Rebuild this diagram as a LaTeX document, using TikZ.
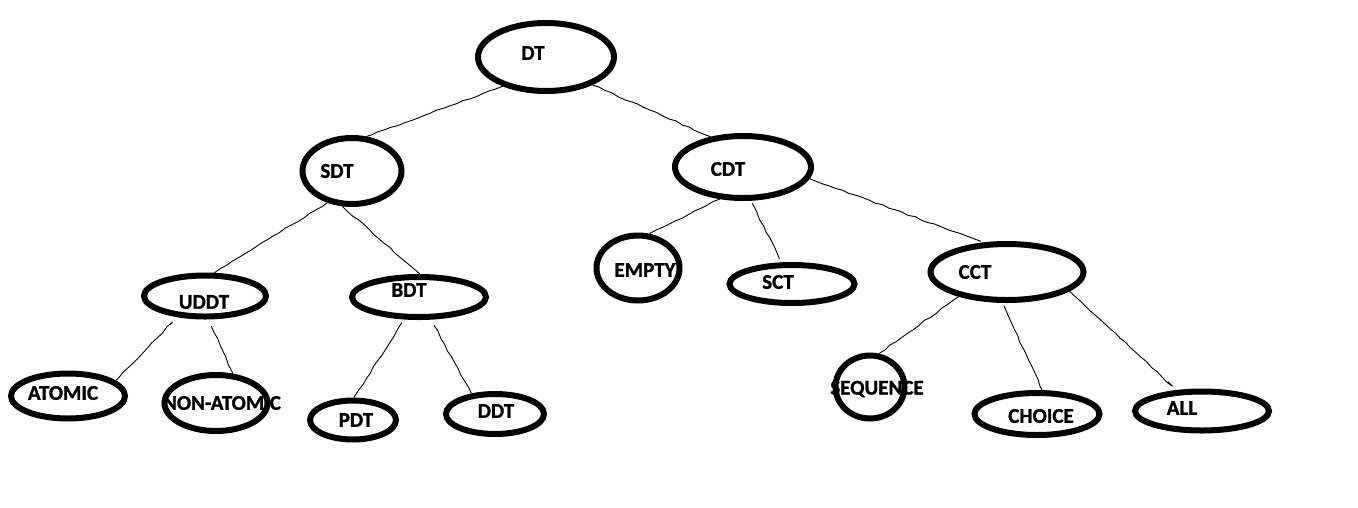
\documentclass[tikz,border=0pt]{standalone}
\usepackage{fontspec}
\setmainfont{Carlito}[BoldFeatures={FakeBold=1.2}]
\usetikzlibrary{shapes.geometric,decorations.pathmorphing}
\begin{document}
\begin{tikzpicture}[x=1pt,y=-1pt,
  ell/.style={draw=black,line width=6pt,ellipse,inner sep=0pt,fill=none},
  lbl/.style={inner sep=0pt,font=\bfseries\fontsize{21}{22}\selectfont},
  conn/.style={draw=black,line width=0.9pt,decorate,decoration={random steps,segment length=7pt,amplitude=0.7pt}}]
\pgfmathsetseed{7}
\useasboundingbox[fill=white] (0,0) rectangle (1358,507);
% ellipses
\node[ell,minimum width=136,minimum height=68] (dt) at (546,57) {};
\node[ell,minimum width=99,minimum height=66] (sdt) at (352,171) {};
\node[ell,minimum width=136,minimum height=62] (cdt) at (743,167) {};
\node[ell,minimum width=122,minimum height=41] (uddt) at (205,296) {};
\node[ell,minimum width=134,minimum height=40] (bdt) at (419,297) {};
\node[ell,minimum width=83,minimum height=65] (empty) at (638,268) {};
\node[ell,minimum width=125,minimum height=38] (sct) at (792,284) {};
\node[ell,minimum width=153,minimum height=56] (cct) at (1007,272) {};
\node[ell,minimum width=114,minimum height=45] (atomic) at (68,396) {};
\node[ell,minimum width=103,minimum height=56] (nonatomic) at (216,403) {};
\node[ell,minimum width=86,minimum height=39] (pdt) at (353,420) {};
\node[ell,minimum width=98,minimum height=40] (ddt) at (495,414) {};
\node[ell,minimum width=69,minimum height=63] (sequence) at (870,387) {};
\node[ell,minimum width=125,minimum height=42] (choice) at (1037,414) {};
\node[ell,minimum width=134,minimum height=39] (all) at (1202,411) {};
% labels
\node[lbl] (dtl) at (533,53) {DT};
\node[lbl] (sdtl) at (337,171) {SDT};
\node[lbl] (cdtl) at (728,169) {CDT};
\node[lbl] (uddtl) at (204,302) {UDDT};
\node[lbl] (bdtl) at (409,290) {BDT};
\node[lbl] (emptyl) at (645,270) {EMPTY};
\node[lbl] (sctl) at (778,282) {SCT};
\node[lbl] (cctl) at (975,272) {CCT};
\node[lbl] (atomicl) at (63,393) {ATOMIC};
\node[lbl] (nonatomicl) at (222,403) {NON-ATOMIC};
\node[lbl] (pdtl) at (356,420) {PDT};
\node[lbl] (ddtl) at (496,411) {DDT};
\node[lbl] (sequencel) at (877,389) {SEQUENCE};
\node[lbl] (choicel) at (1041,416) {CHOICE};
\node[lbl] (alll) at (1182,408) {ALL};
% connectors
\draw[conn] (dt.214) -- (sdt.67);
\draw[conn] (dt.329) -- (cdt.137);
\draw[conn] (sdt.232) -- (uddt.68);
\draw[conn] (sdt.255) -- (bdt.88);
\draw[conn,shorten <=10pt] (uddt.217) -- (atomic.18);
\draw[conn,shorten <=8pt] (uddt.278) -- (nonatomic.60);
\draw[conn,shorten <=4pt] (bdt.237) -- (pdt.88);
\draw[conn,shorten <=8pt] (bdt.298) -- (ddt.139);
\draw[conn] (cdt.234) -- (empty.72);
\draw[conn,shorten <=3pt,shorten >=4pt] (cdt.283) -- (sct.116);
\draw[conn,shorten >=3pt] (cdt.350) -- (cct.128);
\draw[conn] (cct.207) -- (sequence.75);
\draw[conn,shorten <=3pt] (cct.262) -- (choice.78);
\draw[conn,shorten >=12pt] (cct.343) -- (all.141);
\end{tikzpicture}
\end{document}
